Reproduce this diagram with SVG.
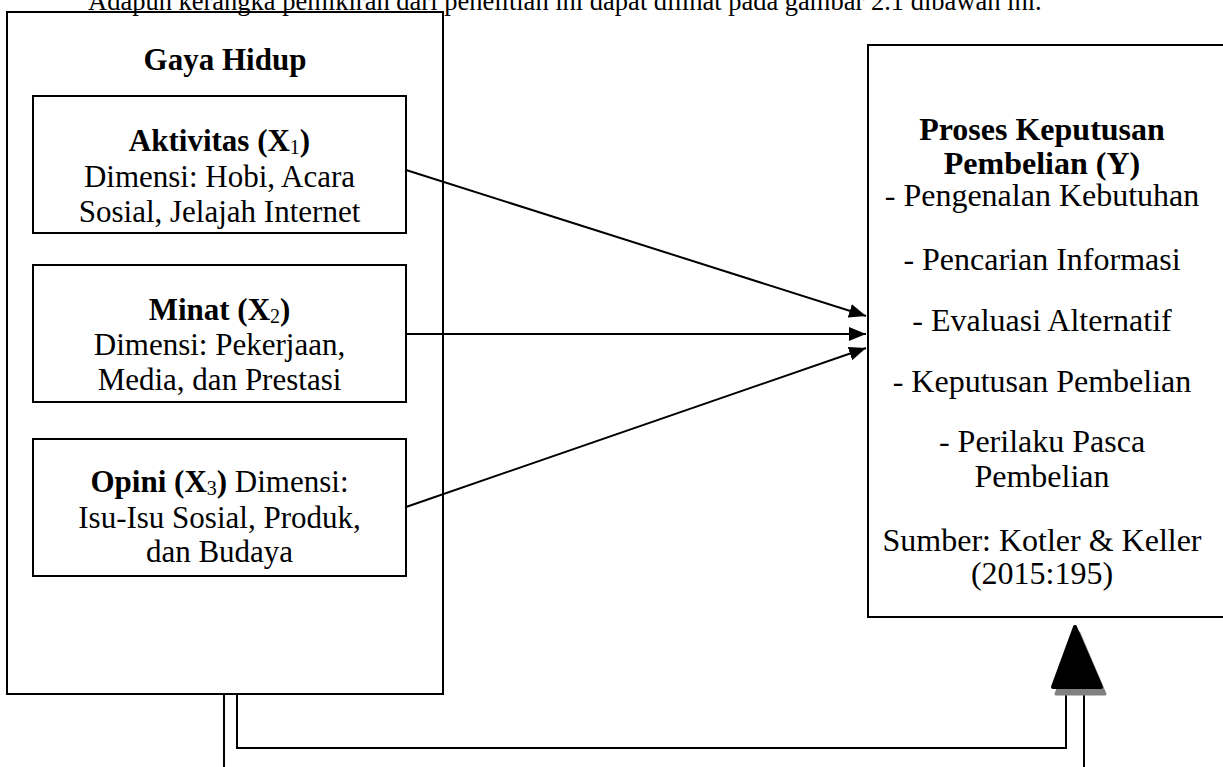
<svg xmlns="http://www.w3.org/2000/svg" width="1223" height="767" viewBox="0 0 1223 767">
<style>
.box{fill:none;stroke:#000;stroke-width:2}
.t{font-family:"Liberation Serif","Times New Roman",serif;font-size:31px;fill:#000;text-anchor:middle}
.r{font-size:32px}
.b{font-weight:bold}
.sub{font-size:20px}
.ln{fill:none;stroke:#000;stroke-width:2}
</style>
<defs>
<marker id="ah" markerUnits="userSpaceOnUse" markerWidth="18" markerHeight="14" refX="17" refY="7" orient="auto">
<path d="M0,0 L17,7 L0,14 Z" fill="#000"/>
</marker>
</defs>
<rect width="1223" height="767" fill="#fff"/>
<text x="88" y="10" font-family="Liberation Serif, serif" font-size="26.5" fill="#000">Adapun kerangka pemikiran dari penelitian ini dapat dilihat pada gambar 2.1 dibawah ini.</text>
<g id="gaya-hidup">
<rect class="box" x="7" y="12" width="436" height="682"/>
<text class="t b" x="225" y="70">Gaya Hidup</text>
</g>
<g id="aktivitas">
<rect class="box" x="33" y="96" width="373" height="137"/>
<text class="t" x="219.5" y="151"><tspan class="b">Aktivitas (X</tspan><tspan class="sub" dy="3">1</tspan><tspan class="b" dy="-3">)</tspan></text>
<text class="t" x="219.5" y="187">Dimensi: Hobi, Acara</text>
<text class="t" x="219.5" y="222">Sosial, Jelajah Internet</text>
</g>
<g id="minat">
<rect class="box" x="33" y="265" width="373" height="137"/>
<text class="t" x="219.5" y="320"><tspan class="b">Minat (X</tspan><tspan class="sub" dy="3">2</tspan><tspan class="b" dy="-3">)</tspan></text>
<text class="t" x="219.5" y="355">Dimensi: Pekerjaan,</text>
<text class="t" x="219.5" y="390">Media, dan Prestasi</text>
</g>
<g id="opini">
<rect class="box" x="33" y="439" width="373" height="137"/>
<text class="t" x="219.5" y="492"><tspan class="b">Opini (X</tspan><tspan class="sub" dy="3">3</tspan><tspan class="b" dy="-3">)</tspan> Dimensi:</text>
<text class="t" x="219.5" y="528">Isu-Isu Sosial, Produk,</text>
<text class="t" x="219.5" y="562">dan Budaya</text>
</g>
<g id="proses-keputusan">
<rect class="box" x="868" y="45" width="400" height="572"/>
<text class="t r b" x="1042" y="140">Proses Keputusan</text>
<text class="t r b" x="1042" y="174">Pembelian (Y)</text>
<text class="t r" x="1042" y="206">- Pengenalan Kebutuhan</text>
<text class="t r" x="1042" y="270">- Pencarian Informasi</text>
<text class="t r" x="1042" y="331">- Evaluasi Alternatif</text>
<text class="t r" x="1042" y="392">- Keputusan Pembelian</text>
<text class="t r" x="1042" y="452">- Perilaku Pasca</text>
<text class="t r" x="1042" y="487">Pembelian</text>
<text class="t r" x="1042" y="551">Sumber: Kotler &amp; Keller</text>
<text class="t r" x="1042" y="584">(2015:195)</text>
</g>
<g id="connectors">
<line class="ln" x1="406" y1="170" x2="866" y2="316" marker-end="url(#ah)"/>
<line class="ln" x1="406" y1="334" x2="866" y2="334" marker-end="url(#ah)"/>
<line class="ln" x1="406" y1="507" x2="866" y2="348" marker-end="url(#ah)"/>
<line class="ln" x1="224" y1="694" x2="224" y2="767" stroke-width="3"/>
<polyline class="ln" points="237,694 237,748 1066,748 1066,692"/>
<line class="ln" x1="1084" y1="692" x2="1084" y2="767"/>
<path d="M1079,633 L1105,694 L1056,694 Z" fill="#808080" stroke="#808080" stroke-width="3" stroke-linejoin="round"/>
<path d="M1075,627 L1101,687 L1053,687 Z" fill="#000" stroke="#000" stroke-width="4" stroke-linejoin="round"/>
</g>
</svg>
